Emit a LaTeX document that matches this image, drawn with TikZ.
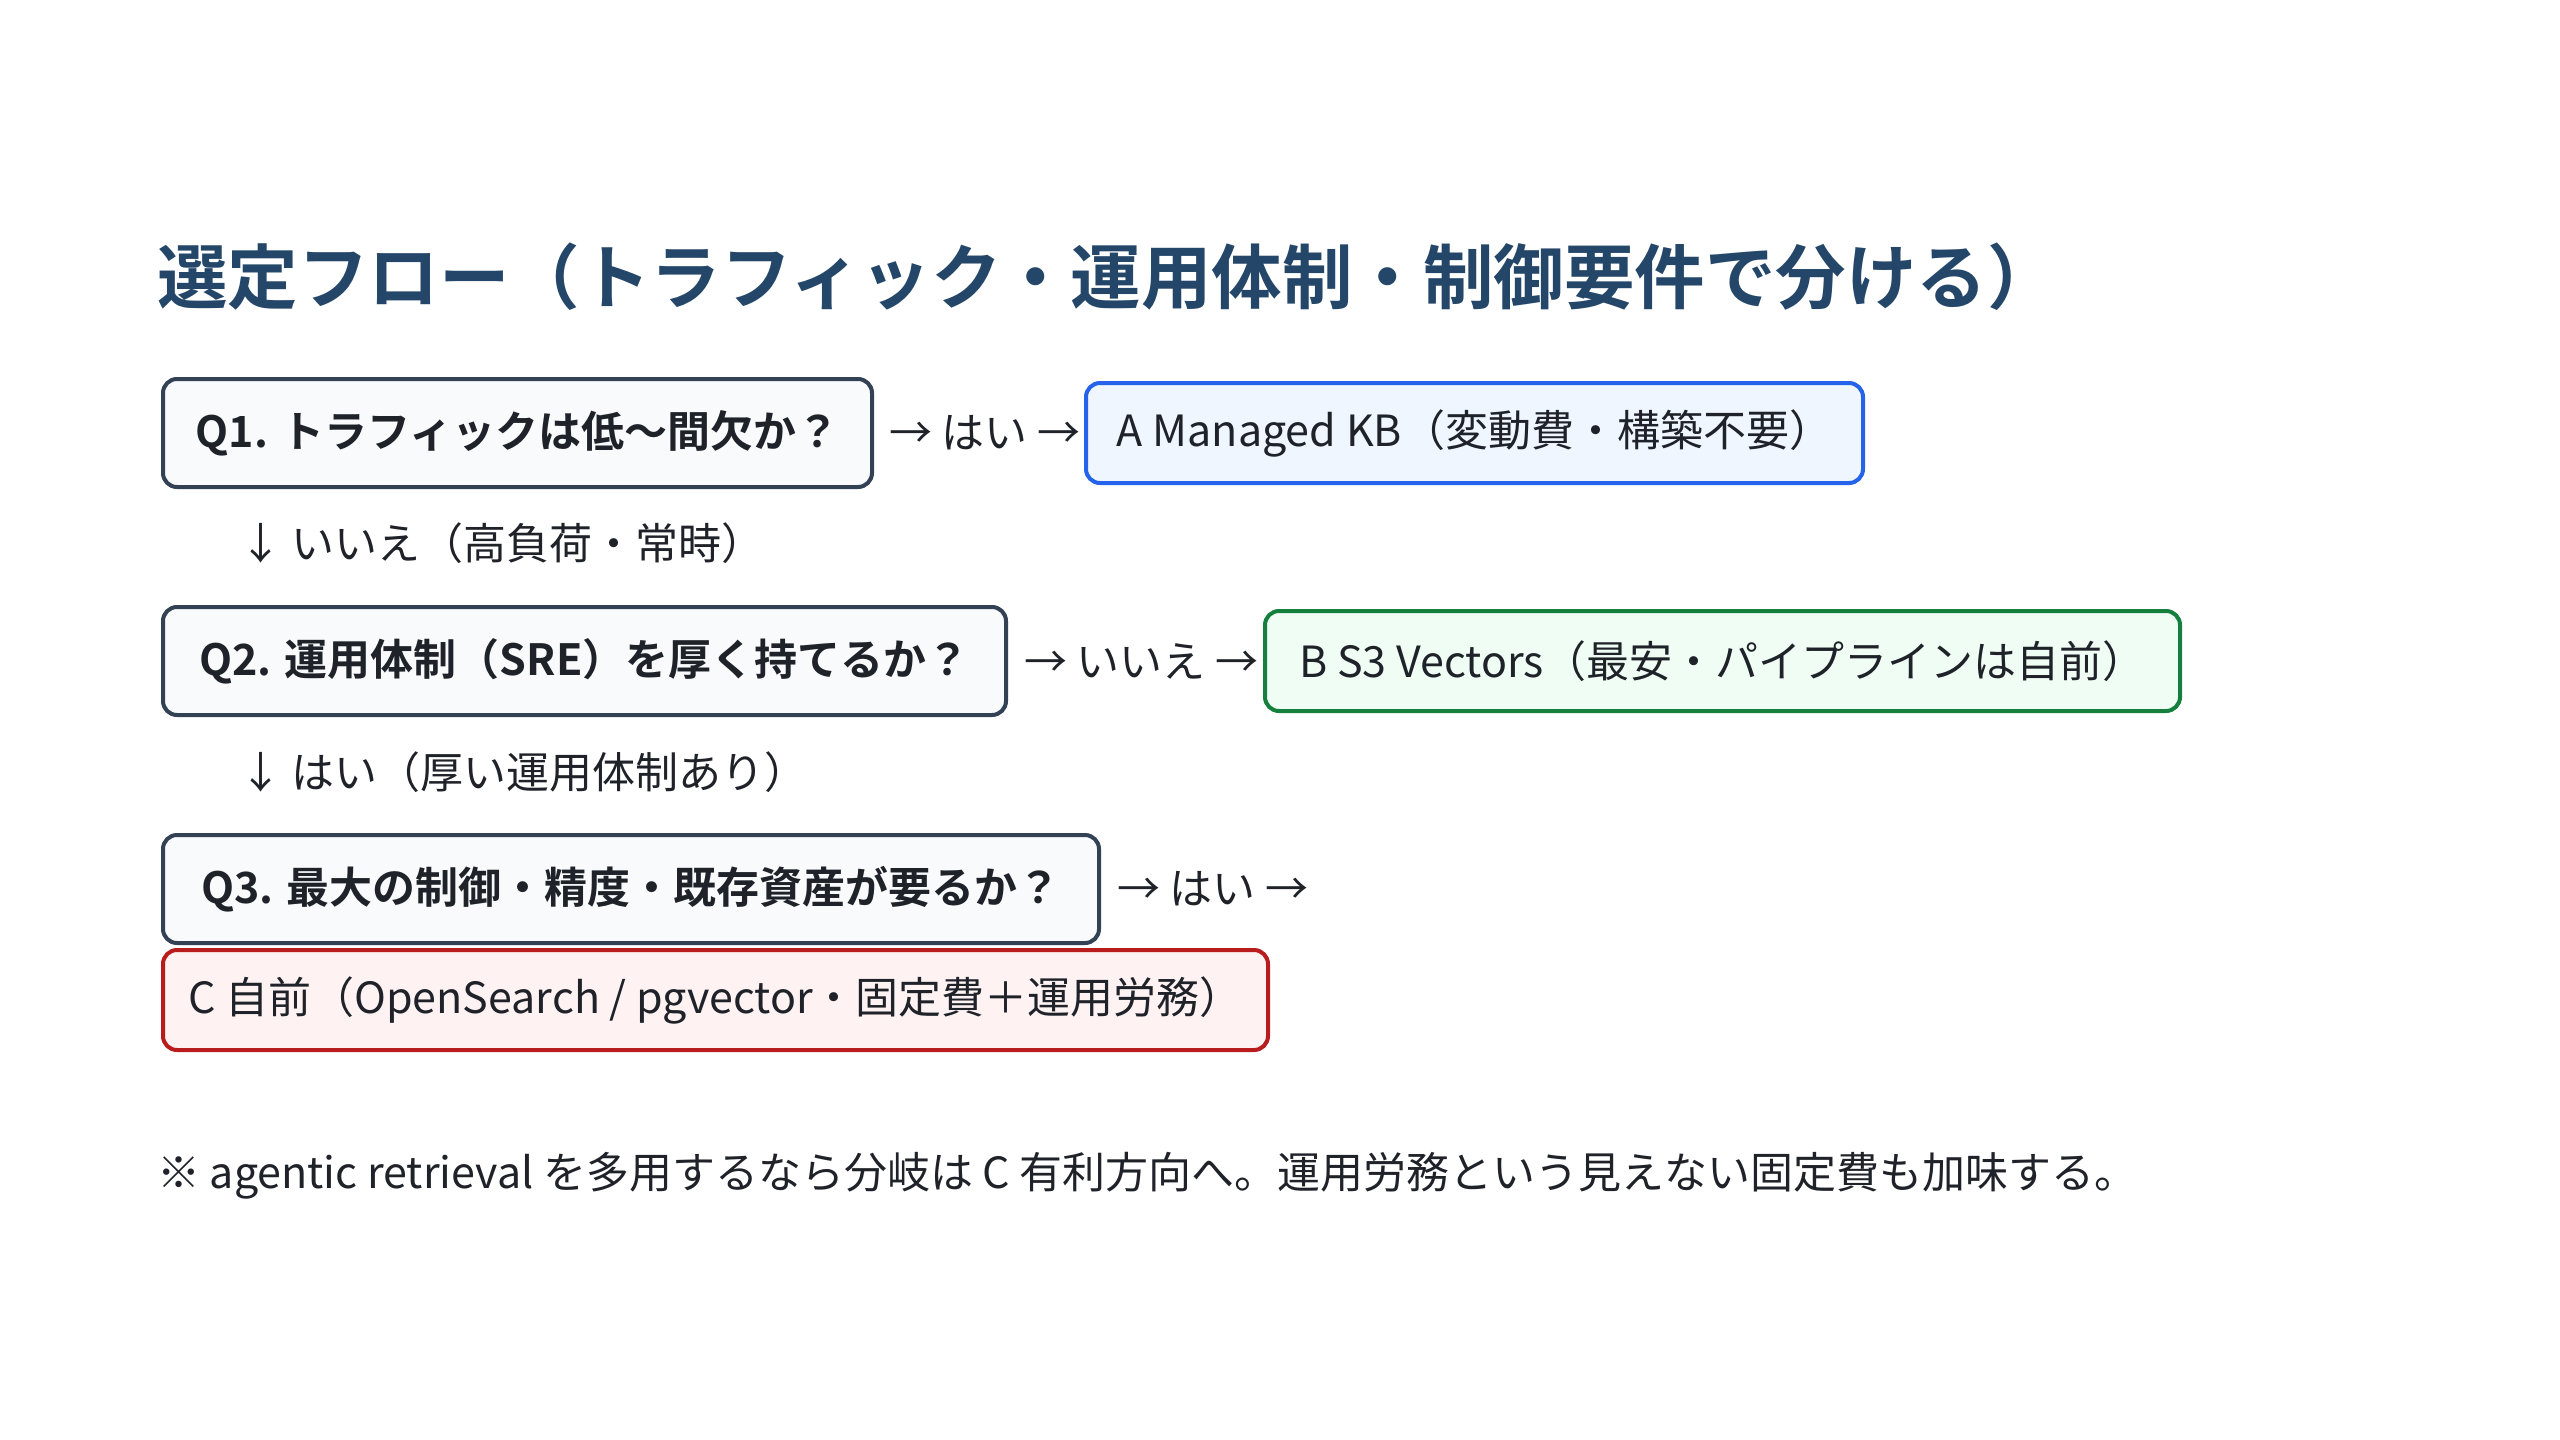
\documentclass[tikz,border=0pt]{standalone}
\usepackage{fontspec}
\setmainfont{Noto Sans CJK JP}[BoldFont={Noto Sans CJK JP Bold}]
\usetikzlibrary{positioning}

\definecolor{titleblue}{HTML}{244668}
\definecolor{ink}{HTML}{1F2329}
\definecolor{qline}{HTML}{334155}
\definecolor{qfill}{HTML}{F8FAFC}
\definecolor{aline}{HTML}{2563EB}
\definecolor{afill}{HTML}{EFF6FF}
\definecolor{bline}{HTML}{15803D}
\definecolor{bfill}{HTML}{F0FDF4}
\definecolor{cline}{HTML}{B91C1C}
\definecolor{cfill}{HTML}{FEF2F2}

\begin{document}
\begin{tikzpicture}[
  x = 1pt, y = -1pt,
  box/.style = {
    shape = rectangle,
    rounded corners = 14pt,
    line width = 4pt,
    inner sep = 0pt,
    anchor = north west,
    text = ink,
  },
  question/.style = {
    box,
    draw = qline,
    fill = qfill,
    minimum height = 108pt,
    font = \fontsize{43}{50}\selectfont\bfseries,
  },
  answer/.style = {
    box,
    minimum height = 100pt,
    font = \fontsize{43}{50}\selectfont,
  },
  branch/.style = {
    inner sep = 0pt,
    text = ink,
    font = \fontsize{43}{50}\selectfont,
  }
]
  \useasboundingbox (0, 0) rectangle (2560, 1440);

  \node[anchor = west, inner sep = 0pt, text = titleblue,
    font = \fontsize{70.5}{82}\selectfont\bfseries] (title) at (157, 277)
    {選定フロー（トラフィック・運用体制・制御要件で分ける）};

  % questions
  \node[question, minimum width = 709pt] (q1) at (161, 377)
    {Q1. トラフィックは低〜間欠か？};
  \node[question, minimum width = 843pt] (q2) at (161, 605)
    {Q2. 運用体制（SRE）を厚く持てるか？};
  \node[question, minimum width = 936pt] (q3) at (161, 833)
    {Q3. 最大の制御・精度・既存資産が要るか？};

  % branches
  \node[branch, anchor = west] (q1yes) at ([xshift = 15pt]q1.east) {→ はい →};
  \node[branch, anchor = west] (q1no) at (239, 543) {↓ いいえ（高負荷・常時）};
  \node[branch, anchor = west] (q2no) at ([xshift = 16pt]q2.east) {→ いいえ →};
  \node[branch, anchor = west] (q2yes) at (239, 772) {↓ はい（厚い運用体制あり）};
  \node[branch, anchor = west] (q3yes) at ([xshift = 16pt]q3.east) {→ はい →};

  % answers
  \node[answer, draw = aline, fill = afill, minimum width = 777pt] (optA) at (1084, 381)
    {A Managed KB（変動費・構築不要）};
  \node[answer, draw = bline, fill = bfill, minimum width = 915pt] (optB) at (1263, 609)
    {B S3 Vectors（最安・パイプラインは自前）};
  \node[answer, draw = cline, fill = cfill, minimum width = 1105pt] (optC) at (161, 948)
    {C 自前（OpenSearch / pgvector・固定費＋運用労務）};

  \node[branch, anchor = west] (note) at (157, 1176)
    {※ agentic retrieval を多用するなら分岐は C 有利方向へ。運用労務という見えない固定費も加味する。};
\end{tikzpicture}
\end{document}
